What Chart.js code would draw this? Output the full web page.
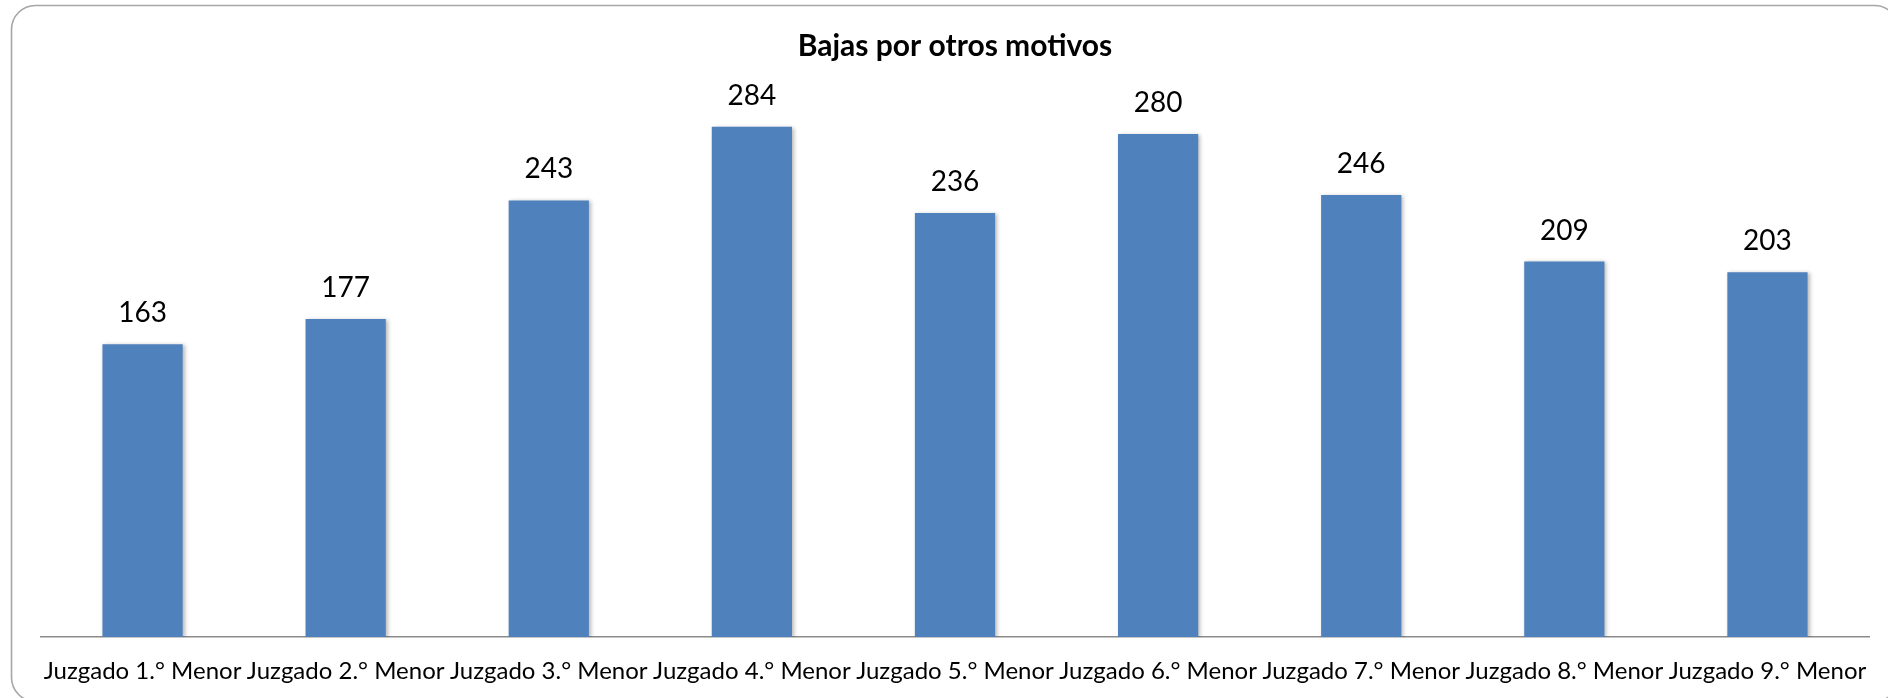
<!DOCTYPE html>
<html>
<head>
<meta charset="utf-8">
<script src="https://cdn.jsdelivr.net/npm/chart.js@4"></script>
<style>
  html, body { margin: 0; padding: 0; background: #ffffff; }
  #wrap { width: 1888px; height: 698px; position: relative; }
</style>
</head>
<body>
<div id="wrap"><canvas id="c" width="1888" height="698"></canvas></div>
<script>
const chartTitle = "Bajas por otros motivos";
const categories = [
  "Juzgado 1.° Menor", "Juzgado 2.° Menor", "Juzgado 3.° Menor",
  "Juzgado 4.° Menor", "Juzgado 5.° Menor", "Juzgado 6.° Menor",
  "Juzgado 7.° Menor", "Juzgado 8.° Menor", "Juzgado 9.° Menor"
];
const values = [163, 177, 243, 284, 236, 280, 246, 209, 203];

const FONT = "Lato, 'Open Sans', sans-serif";

const frame = {
  id: 'frame',
  beforeDraw(chart) {
    const ctx = chart.ctx;
    ctx.save();
    ctx.fillStyle = '#ffffff';
    ctx.fillRect(0, 0, chart.width, chart.height);
    ctx.strokeStyle = '#a6a6a6';
    ctx.lineWidth = 1.6;
    ctx.beginPath();
    ctx.roundRect(11.5, 5.5, 1887, 696, 24);
    ctx.stroke();
    ctx.restore();
  }
};

const shadow = {
  id: 'shadow',
  beforeDatasetsDraw(chart) {
    const ctx = chart.ctx;
    ctx.save();
    ctx.shadowColor = 'rgba(0,0,0,0.28)';
    ctx.shadowBlur = 4;
    ctx.shadowOffsetX = 2;
    ctx.shadowOffsetY = 1;
  },
  afterDatasetsDraw(chart) {
    chart.ctx.restore();
  }
};

const valueLabels = {
  id: 'valueLabels',
  afterDatasetsDraw(chart) {
    const ctx = chart.ctx;
    const meta = chart.getDatasetMeta(0);
    ctx.save();
    ctx.fillStyle = '#000000';
    ctx.font = "28px " + FONT;
    ctx.textAlign = 'center';
    ctx.textBaseline = 'middle';
    meta.data.forEach((bar, i) => {
      ctx.fillText(String(values[i]), bar.x, bar.y - 31);
    });
    ctx.restore();
  }
};

new Chart(document.getElementById('c'), {
  type: 'bar',
  data: {
    labels: categories,
    datasets: [{
      data: values,
      backgroundColor: '#4f81bd',
      borderWidth: 0,
      barPercentage: 0.395,
      categoryPercentage: 1.0
    }]
  },
  options: {
    responsive: false,
    animation: false,
    devicePixelRatio: 1,
    layout: { padding: { left: 41, right: 19, top: 0, bottom: 0 } },
    plugins: {
      legend: { display: false },
      tooltip: { enabled: false },
      title: {
        display: true,
        text: chartTitle,
        color: '#000000',
        font: { family: FONT, size: 30, weight: 'bold', lineHeight: 1.2 },
        padding: { top: 28, bottom: 34 }
      }
    },
    scales: {
      x: {
        grid: { display: false, drawTicks: false },
        border: { display: true, color: '#8c8c8c', width: 1.5 },
        afterFit(scale) { scale.height = 61; },
        ticks: {
          color: '#000000',
          font: { family: FONT, size: 24, lineHeight: 1.2 },
          padding: 20,
          maxRotation: 0,
          minRotation: 0,
          autoSkip: false
        }
      },
      y: {
        display: false,
        min: 0,
        max: 300
      }
    }
  },
  plugins: [frame, shadow, valueLabels]
});
</script>
</body>
</html>
